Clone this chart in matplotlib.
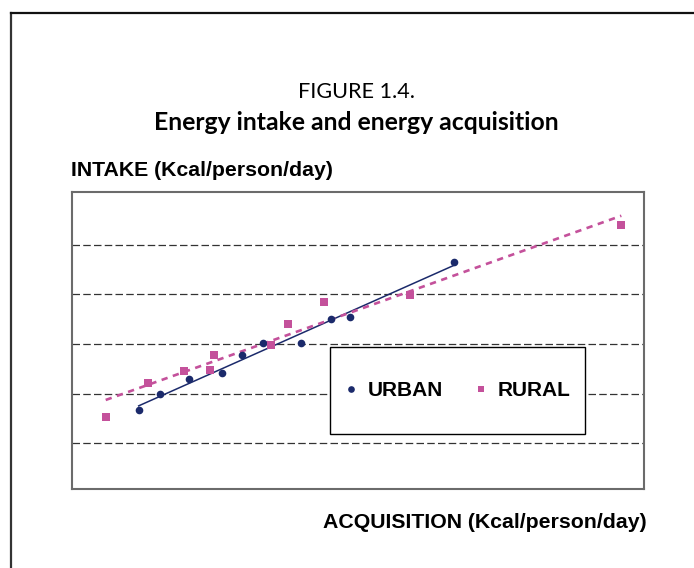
"""Energy intake vs energy acquisition, urban and rural scatter with trendlines."""

import matplotlib

matplotlib.use("Agg")
from matplotlib.lines import Line2D
from matplotlib.patches import Rectangle
import matplotlib.pyplot as plt
import numpy as np

# Urban households (acquisition, intake), kcal/person/day
urban_acquisition = [1670, 1883, 2173, 2506, 2706, 2916, 3290, 3590, 3780, 4823]
urban_intake = [1836, 1994, 2145, 2206, 2390, 2514, 2514, 2753, 2770, 3328]

# Rural households
rural_acquisition = [1340, 1763, 2120, 2380, 2426, 2990, 3160, 3526, 4380, 6496]
rural_intake = [1768, 2111, 2226, 2242, 2390, 2488, 2706, 2927, 2995, 3700]

grid_levels = [1500, 2000, 2500, 3000, 3500]
series_labels = ["URBAN", "RURAL"]

URBAN_COLOR = "#1B2A6B"
RURAL_COLOR = "#C4519B"
LABEL_FONT = "Liberation Sans"
TITLE_FONT = "Lato"

fig = plt.figure(figsize=(6.94, 5.68), dpi=100)
ax = fig.add_axes([0.1033, 0.1391, 0.8247, 0.5234])

# Dashed horizontal gridlines, no tick labels
for level in grid_levels:
    ax.axhline(level, color="#333333", linewidth=0.9, dashes=(6, 2.6), zorder=1)

# Trendlines (linear fit like the spreadsheet original)
for xs, ys, color, style in [
    (urban_acquisition, urban_intake, URBAN_COLOR, {"linewidth": 1.1}),
    (rural_acquisition, rural_intake, RURAL_COLOR, {"linewidth": 1.9, "dashes": (2.4, 2.1)}),
]:
    slope, intercept = np.polyfit(xs, ys, 1)
    x_line = np.array([min(xs), max(xs)])
    ax.plot(x_line, slope * x_line + intercept, color=color, zorder=2, **style)

ax.plot(urban_acquisition, urban_intake, "o", color=URBAN_COLOR, ms=5.5, mew=0, zorder=3)
ax.plot(rural_acquisition, rural_intake, "s", color=RURAL_COLOR, ms=5.2, mew=0, zorder=3)

ax.set_xlim(1000, 6723)
ax.set_ylim(1039, 4036)
ax.set_xticks([])
ax.set_yticks([])
for spine in ax.spines.values():
    spine.set_color("#6b6b6b")
    spine.set_linewidth(1.5)

# Legend box drawn by hand so it matches the original placement
ax.add_patch(
    Rectangle(
        (0.4513, 0.185), 0.4461, 0.2936,
        transform=ax.transAxes, facecolor="white", edgecolor="black",
        linewidth=1.0, zorder=4,
    )
)
handles = [
    Line2D([0], [0], linestyle="", marker="o", color=URBAN_COLOR, ms=4.8, mew=0),
    Line2D([0], [0], linestyle="", marker="s", color=RURAL_COLOR, ms=4.6, mew=0),
]
leg = ax.legend(
    handles, series_labels, loc="center", bbox_to_anchor=(0.6743, 0.3318),
    ncol=2, frameon=False, handlelength=0.6, handletextpad=0.5, columnspacing=1.5,
    prop={"family": LABEL_FONT, "weight": "bold", "size": 15},
)
leg.set_zorder(5)

# Titles and axis captions
fig.text(0.514, 1 - 92 / 568, "FIGURE 1.4.", ha="center", va="center",
         family=TITLE_FONT, fontsize=15.6)
fig.text(0.514, 1 - 122 / 568, "Energy intake and energy acquisition", ha="center",
         va="center", family=TITLE_FONT, fontweight="bold", fontsize=17.8)
fig.text(71 / 694, 1 - 171 / 568, "INTAKE (Kcal/person/day)", ha="left", va="center",
         family=LABEL_FONT, fontweight="bold", fontsize=15.3)
fig.text(647 / 694, 1 - 522 / 568, "ACQUISITION (Kcal/person/day)", ha="right",
         va="center", family=LABEL_FONT, fontweight="bold", fontsize=15.3)

# Outer page frame: left and top edges only
frame_x = 10.5 / 694
frame_y = 1 - 12.5 / 568
fig.add_artist(Line2D([frame_x, frame_x], [0, frame_y], transform=fig.transFigure,
                      color="#333333", linewidth=1.6))
fig.add_artist(Line2D([frame_x, 1], [frame_y, frame_y], transform=fig.transFigure,
                      color="#111111", linewidth=1.6))

fig.savefig("out.png", dpi=100)
